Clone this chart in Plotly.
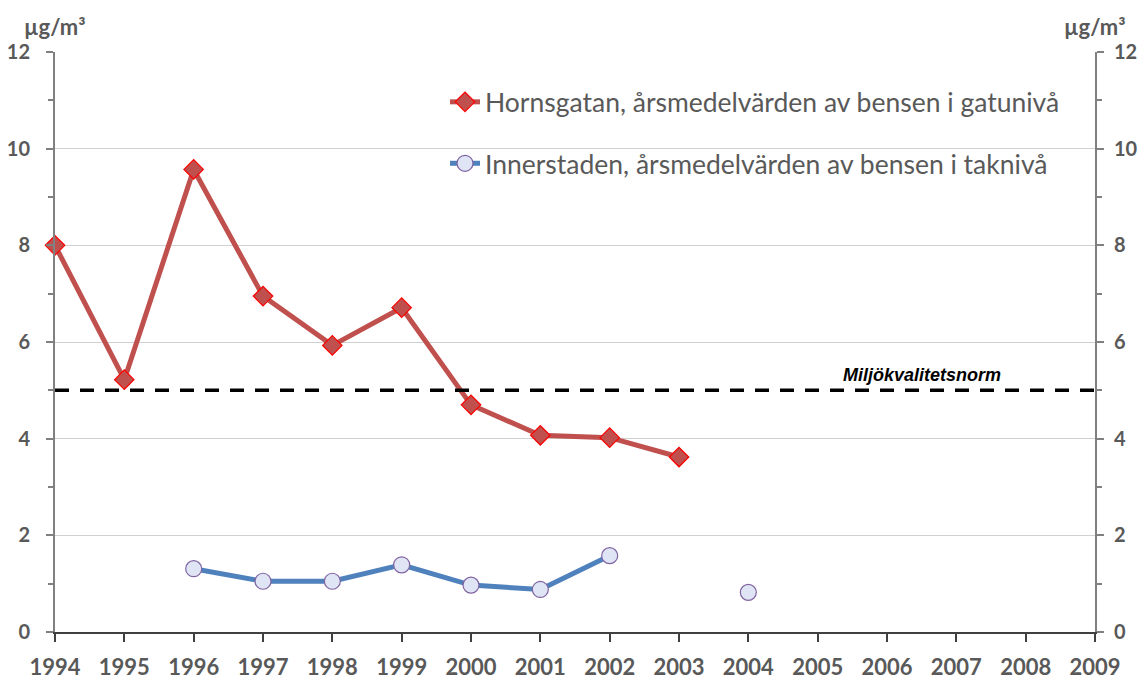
import plotly.graph_objects as go

years = list(range(1994, 2010))
hornsgatan = [8.00, 5.22, 9.57, 6.95, 5.93, 6.71, 4.70, 4.07, 4.02, 3.62,
              None, None, None, None, None, None]
innerstaden = [None, None, 1.31, 1.05, 1.05, 1.39, 0.97, 0.88, 1.58, None,
               0.82, None, None, None, None, None]
norm_value = 5
norm_label = "Miljökvalitetsnorm"
unit_label = "µg/m³"
name_red = "Hornsgatan, årsmedelvärden av bensen i gatunivå"
name_blue = "Innerstaden, årsmedelvärden av bensen i taknivå"

GRAY = "#595959"
FONT = "Lato"

fig = go.Figure()

fig.add_trace(go.Scatter(
    x=[years[0], years[-1]], y=[norm_value, norm_value], yaxis="y2",
    mode="lines", line=dict(color="black", width=3.5, dash="14px,11px"),
    showlegend=False, hoverinfo="skip", cliponaxis=False))

fig.add_trace(go.Scatter(
    x=years, y=hornsgatan, name=name_red, mode="lines+markers",
    line=dict(color="#C0504D", width=5),
    marker=dict(symbol="diamond", size=15, color="#C0504D",
                line=dict(color="#FF0000", width=1.2)),
    cliponaxis=False, legendgroup="a", connectgaps=False))

fig.add_trace(go.Scatter(
    x=years, y=innerstaden, name=name_blue, mode="lines+markers",
    line=dict(color="#4F81BD", width=5),
    marker=dict(symbol="circle", size=16, color="#DFE5F4",
                line=dict(color="#8064A2", width=1.2)),
    cliponaxis=False, legendgroup="b", connectgaps=False))

xtickfont = dict(family=FONT, size=22, color=GRAY, weight="bold")
ytickfont = dict(family=FONT, size=20, color=GRAY, weight="bold")

fig.update_layout(
    width=1141, height=682,
    margin=dict(l=55, r=46, t=52, b=50, autoexpand=False),
    plot_bgcolor="white", paper_bgcolor="white",
    font=dict(family=FONT, color=GRAY),
    xaxis=dict(range=[1994, 2009], dtick=1, tick0=1994, showgrid=False,
               showline=True, linecolor="#404040", linewidth=2,
               ticks="outside", ticklen=8, tickcolor="#404040", tickwidth=2,
               tickfont=xtickfont, ticklabelstandoff=7, zeroline=False,
               fixedrange=True, automargin=False),
    yaxis=dict(range=[0, 12], dtick=2, showgrid=True, gridcolor="#D0D0D0",
               gridwidth=1, showline=True, linecolor="#808080", linewidth=2,
               ticks="outside", ticklen=7, tickcolor="#808080", tickwidth=1.5,
               minor=dict(dtick=1, ticks="outside", ticklen=5,
                          tickcolor="#808080", showgrid=False),
               tickfont=ytickfont, ticklabelstandoff=12, zeroline=False,
               automargin=False),
    yaxis2=dict(range=[0, 12], dtick=2, overlaying="y", side="right",
                showgrid=False, showline=True, linecolor="#808080", linewidth=2,
                ticks="outside", ticklen=7, tickcolor="#808080", tickwidth=1.5,
                minor=dict(dtick=1, ticks="outside", ticklen=5,
                           tickcolor="#808080"),
                tickfont=ytickfont, ticklabelstandoff=6, zeroline=False,
                automargin=False),
    legend=dict(x=0.375, y=0.955, xanchor="left", yanchor="top",
                bgcolor="rgba(0,0,0,0)",
                font=dict(family=FONT, size=26.5, color=GRAY),
                itemwidth=30, tracegroupgap=24, traceorder="grouped"),
    showlegend=True,
)

fig.add_annotation(text=norm_label, x=2006.5, y=norm_value, xref="x", yref="y",
                   yshift=15, showarrow=False,
                   font=dict(family="Liberation Sans", size=18, color="black",
                             style="italic", weight="bold"))
for xd in (0, 1):
    fig.add_annotation(text=unit_label, x=xd, y=1, yshift=26,
                       xref="x domain", yref="y domain", showarrow=False,
                       xanchor="center", yanchor="middle",
                       font=dict(family=FONT, size=22, color=GRAY,
                                 weight="bold"))

fig.write_html("out.html", config={"displayModeBar": False},
               post_script="document.body.style.margin='0';")
